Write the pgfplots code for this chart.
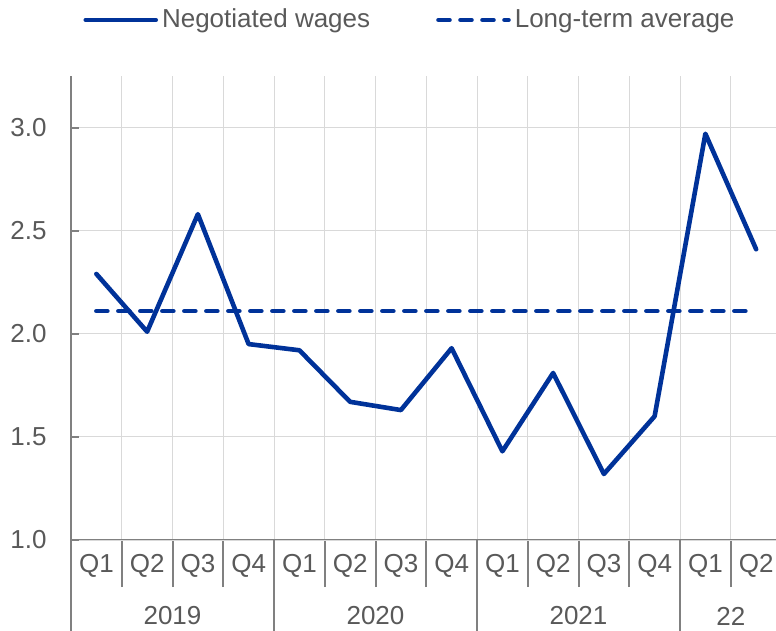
\documentclass[border=0pt]{standalone}
\usepackage{fontspec}
\setmainfont{Liberation Sans}
\usepackage{pgfplots}
\pgfplotsset{compat=1.18}
\definecolor{ecbblue}{HTML}{003299}
\definecolor{txtgray}{HTML}{595959}
\definecolor{axgray}{HTML}{808080}
\definecolor{gridgray}{HTML}{D9D9D9}

\pgfplotstableread{
q val
1 2.29
2 2.01
3 2.58
4 1.95
5 1.92
6 1.67
7 1.63
8 1.93
9 1.43
10 1.81
11 1.32
12 1.60
13 2.97
14 2.41
}\wages

\begin{document}
\begin{tikzpicture}
\useasboundingbox (0,0) rectangle (388pt,315.5pt);
\begin{axis}[
  at={(35.5pt,45.5pt)}, anchor=south west,
  scale only axis,
  width=355.25pt, height=232pt,
  xmin=0.5, xmax=14.5,
  ymin=1, ymax=3.25,
  axis lines*=left,
  axis line style={axgray, line width=1.2pt},
  % quarter boundaries: separators below the axis and vertical grid
  xtick={1.5,2.5,...,13.5},
  xticklabels={},
  xmajorgrids=true,
  xtick align=outside,
  major tick length=23.5pt,
  x tick style={axgray, line width=1pt},
  % quarter names
  extra x ticks={1,...,14},
  extra x tick labels={Q1,Q2,Q3,Q4,Q1,Q2,Q3,Q4,Q1,Q2,Q3,Q4,Q1,Q2},
  extra x tick style={grid=none, major tick length=0pt},
  % y values
  ytick=\empty,
  extra y ticks={1,1.5,2,2.5,3},
  extra y tick style={grid=major, major tick length=4pt, tick align=inside},
  y tick style={axgray, line width=1pt},
  grid style={gridgray, line width=0.5pt},
  /pgf/number format/.cd, fixed, fixed zerofill, precision=1, assume math mode=true,
  /pgfplots/.cd,
  tick label style={font=\fontsize{13}{15}\selectfont, text=txtgray},
  xticklabel style={anchor=center, yshift=-13pt},
  yticklabel style={anchor=east, inner sep=0pt, xshift=-12pt},
  legend style={at={(0.4785,1.1207)}, anchor=center, draw=none, fill=none,
    font=\fontsize{13}{15}\selectfont, text=txtgray,
    legend columns=2,
    /tikz/every even column/.append style={column sep=31pt}},
  legend image code/.code={\draw[#1, line cap=round] (0pt,0pt) -- (35pt,0pt);},
  clip=false,
]
\addplot[ecbblue, line width=2.3pt, line join=round, line cap=round] table[x=q, y=val] {\wages};
\addlegendentry{Negotiated wages}
\addplot[ecbblue, line width=2.3pt, line cap=round, dash pattern=on 5.5pt off 5.5pt] coordinates {(1,2.11) (14,2.11)};
\addlegendentry{Long-term average}

\draw[axgray, line width=1.2pt] (axis cs:0.5,1) -- ++(0pt,-45.5pt);
\draw[axgray, line width=1pt] (axis cs:4.5,1) -- ++(0pt,-45.5pt);
\draw[axgray, line width=1pt] (axis cs:8.5,1) -- ++(0pt,-45.5pt);
\draw[axgray, line width=1pt] (axis cs:12.5,1) -- ++(0pt,-45.5pt);
\node[font=\fontsize{13}{15}\selectfont, text=txtgray, yshift=-38pt] at (axis cs:2.5,1) {2019};
\node[font=\fontsize{13}{15}\selectfont, text=txtgray, yshift=-38pt] at (axis cs:6.5,1) {2020};
\node[font=\fontsize{13}{15}\selectfont, text=txtgray, yshift=-38pt] at (axis cs:10.5,1) {2021};
\node[font=\fontsize{13}{15}\selectfont, text=txtgray, yshift=-38pt] at (axis cs:13.5,1) {22};
\end{axis}
\end{tikzpicture}
\end{document}
